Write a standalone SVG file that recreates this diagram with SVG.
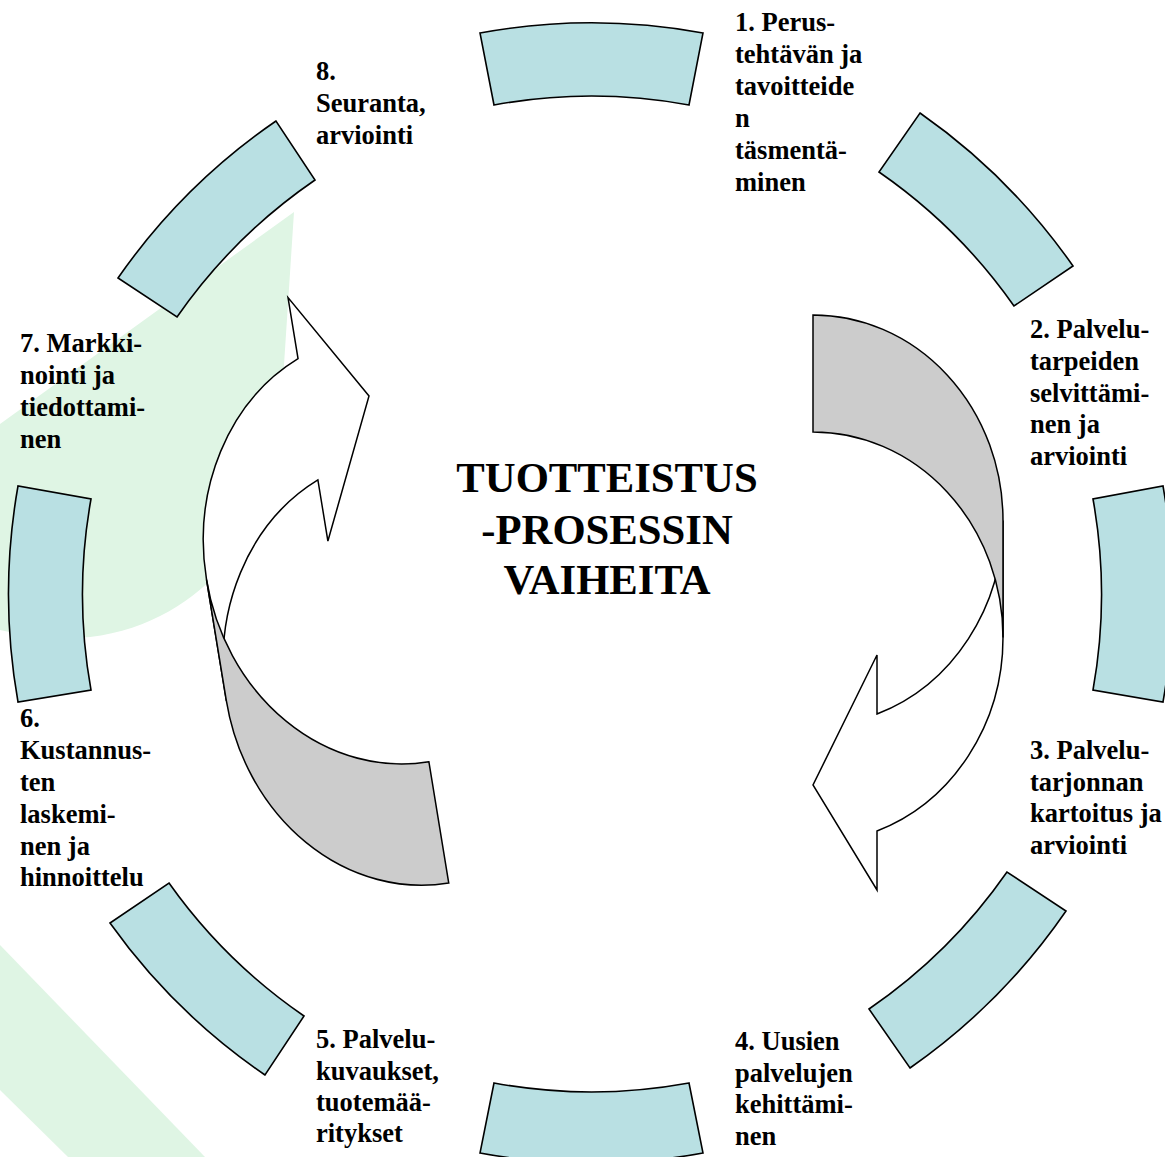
<svg xmlns="http://www.w3.org/2000/svg" xmlns:xlink="http://www.w3.org/1999/xlink" width="1165" height="1157" viewBox="0 0 1165 1157">
<style>
.bg{fill:#dff5e4;stroke:none}
.seg{fill:#b9e0e3;stroke:#000;stroke-width:1.6;stroke-linejoin:miter}
.lbl{font-family:"Liberation Serif","Times New Roman",serif;font-weight:bold;font-size:26.5px;fill:#000}
.title{font-family:"Liberation Serif","Times New Roman",serif;font-weight:bold;font-size:42.7px;fill:#000;text-anchor:middle}
.front{fill:#fff;stroke:#000;stroke-width:1.5;stroke-linejoin:miter}
.back{fill:#cccccc;stroke:#000;stroke-width:1.5;stroke-linejoin:miter}
</style>
<defs>
<g id="curvedArrow">
<path class="front" d="M1003,520.5 L1003,637.5 A190,205.5 0 0 1 877,831 L877,890 L813,785 L877,655 L877,714 A190,205.5 0 0 0 1003,520.5 Z"/>
<path class="back" d="M813,315 A190,205.5 0 0 1 1003,520.5 L1003,637.5 A190,205.5 0 0 0 813,432 Z"/>
</g>
</defs>
<rect width="1165" height="1157" fill="#fff"/>
<g id="background">
<path class="bg" d="M294,212 L0,424 L0,630 C30,637 60,640 90,637 C150,630 195,600 225,565 C265,515 280,460 283,380 Z"/>
<path class="bg" d="M0,945 L205,1157 L68,1157 L0,1090 Z"/>
</g>
<g id="node1">
<path class="seg" d="M480,33 A620,620 0 0 1 703,33 L689,105 A540,540 0 0 0 494,105 Z"/>
<text class="lbl"><tspan x="735" y="31">1. Perus-</tspan><tspan x="735" y="63">tehtävän ja</tspan><tspan x="735" y="95">tavoitteide</tspan><tspan x="735" y="127">n</tspan><tspan x="735" y="159">täsmentä-</tspan><tspan x="735" y="191">minen</tspan></text>
</g>
<g id="node2">
<path class="seg" d="M920,113 A620,620 0 0 1 1073,266 L1014,306 A540,540 0 0 0 879,172 Z"/>
<text class="lbl"><tspan x="1030" y="338">2. Palvelu-</tspan><tspan x="1030" y="370">tarpeiden</tspan><tspan x="1030" y="402">selvittämi-</tspan><tspan x="1030" y="433">nen ja</tspan><tspan x="1030" y="465">arviointi</tspan></text>
</g>
<g id="node3">
<path class="seg" d="M1163,486 A620,620 0 0 1 1163,702 L1093,690 A540,540 0 0 0 1093,499 Z"/>
<text class="lbl"><tspan x="1030" y="759">3. Palvelu-</tspan><tspan x="1030" y="791">tarjonnan</tspan><tspan x="1030" y="822">kartoitus ja</tspan><tspan x="1030" y="854">arviointi</tspan></text>
</g>
<g id="node4">
<path class="seg" d="M1066,911 A620,620 0 0 1 910,1068 L869,1009 A540,540 0 0 0 1007,872 Z"/>
<text class="lbl"><tspan x="735" y="1050">4. Uusien</tspan><tspan x="735" y="1082">palvelujen</tspan><tspan x="735" y="1113">kehittämi-</tspan><tspan x="735" y="1145">nen</tspan></text>
</g>
<g id="node5">
<path class="seg" d="M703,1153 A620,620 0 0 1 480,1153 L494,1083 A540,540 0 0 0 689,1083 Z"/>
<text class="lbl"><tspan x="316" y="1048">5. Palvelu-</tspan><tspan x="316" y="1080">kuvaukset,</tspan><tspan x="316" y="1111">tuotemää-</tspan><tspan x="316" y="1142">ritykset</tspan></text>
</g>
<g id="node6">
<path class="seg" d="M265,1075 A620,620 0 0 1 110,923 L169,883 A540,540 0 0 0 304,1016 Z"/>
<text class="lbl"><tspan x="20" y="727">6.</tspan><tspan x="20" y="759">Kustannus-</tspan><tspan x="20" y="791">ten</tspan><tspan x="20" y="823">laskemi-</tspan><tspan x="20" y="855">nen ja</tspan><tspan x="20" y="886">hinnoittelu</tspan></text>
</g>
<g id="node7">
<path class="seg" d="M18,702 A620,620 0 0 1 18,486 L91,499 A540,540 0 0 0 91,690 Z"/>
<text class="lbl"><tspan x="20" y="352">7. Markki-</tspan><tspan x="20" y="384">nointi ja</tspan><tspan x="20" y="416">tiedottami-</tspan><tspan x="20" y="448">nen</tspan></text>
</g>
<g id="node8">
<path class="seg" d="M118,278 A620,620 0 0 1 276,121 L315,180 A540,540 0 0 0 177,317 Z"/>
<text class="lbl"><tspan x="316" y="80">8.</tspan><tspan x="316" y="112">Seuranta,</tspan><tspan x="316" y="144">arviointi</tspan></text>
</g>
<g id="connectors">
<use xlink:href="#curvedArrow" href="#curvedArrow"/>
<use xlink:href="#curvedArrow" href="#curvedArrow" transform="translate(369,396) rotate(170.7) scale(1.0,1.05) translate(-813,-785)"/>
</g>
<g id="title">
<text class="title"><tspan x="607" y="492">TUOTTEISTUS</tspan><tspan x="607" y="544">-PROSESSIN</tspan><tspan x="607" y="594">VAIHEITA</tspan></text>
</g>
</svg>
